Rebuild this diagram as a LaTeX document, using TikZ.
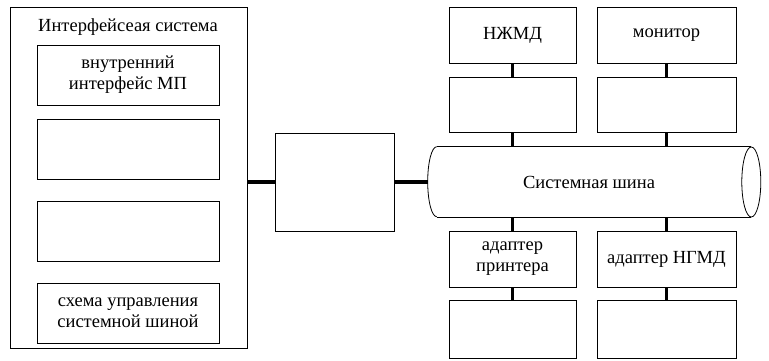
\documentclass[tikz,border=0pt]{standalone}
\usepackage{fontspec}
\setmainfont{Liberation Serif}
\newfontfamily\timesfont{Liberation Serif}
\usepackage{tikz}
\usetikzlibrary{positioning}

\begin{document}
\begin{tikzpicture}[x=1pt,y=-1pt,semithick]
\tikzstyle{blk}=[rectangle,draw=black,line width=0.8pt,inner sep=2pt,align=center]
\tikzstyle{bus line}=[line width=3.5pt]
\tikzset{font=\timesfont\fontsize{18.5pt}{21pt}\selectfont}

        \useasboundingbox (0,0) rectangle (769,361);

        % interface system
        \node[blk,minimum width=237pt,minimum height=341pt]          (is)  at (128.5,177.5) {};
        \node[inner sep=0pt]                                          (ist) at (128,27) {Интерфейсеая система};
        \node[blk,minimum width=182pt,minimum height=60pt]           (i1)  at (128,75)  {внутренний\\интерфейс МП};
        \node[blk,minimum width=182pt,minimum height=60pt]           (i2)  at (128,149) {};
        \node[blk,minimum width=182pt,minimum height=60pt]           (i3)  at (128,231) {};
        \node[blk,minimum width=182pt,minimum height=60pt]           (i4)  at (128,313) {схема управления\\системной шиной};

        \node[blk,minimum width=119pt,minimum height=98pt]           (m)   at (334.5,182) {};

        % system bus
        \node[minimum width=314pt,minimum height=70pt,inner sep=0pt] (bus) at (594,182) {};
        \node[inner sep=0pt]                                          (bt)  at (589,182) {Системная шина};
        \draw[line width=0.8pt] (bus.north west) -- (bus.north east);
        \draw[line width=0.8pt] (bus.south west) -- (bus.south east);
        \draw[line width=0.8pt] (bus.north west) arc[start angle=90,end angle=270,x radius=9pt,y radius=35pt];
        \draw[line width=0.8pt] (bus.east) ellipse [x radius=9.5pt,y radius=35pt];
        \coordinate (bw) at ([xshift=-9pt]bus.west);

        % devices
        \node[blk,minimum width=127pt,minimum height=56pt]           (h1)  at (512.5,35)  {НЖМД};
        \node[blk,minimum width=139pt,minimum height=56pt]           (h2)  at (666.5,35)  {монитор};
        \node[blk,minimum width=127pt,minimum height=55pt]           (c1)  at (512.5,104.5) {};
        \node[blk,minimum width=139pt,minimum height=55pt]           (c2)  at (666.5,104.5) {};
        \node[blk,minimum width=127pt,minimum height=56pt]           (a1)  at (512.5,259) {адаптер\\принтера};
        \node[blk,minimum width=139pt,minimum height=56pt]           (a2)  at (666.5,259) {адаптер НГМД};
        \node[blk,minimum width=127pt,minimum height=58pt]           (p1)  at (512.5,329.5) {};
        \node[blk,minimum width=139pt,minimum height=58pt]           (p2)  at (666.5,329.5) {};

        \draw[bus line]
        (m.west) -- (m.west -| is.east)
        (m.east) -- (bw)
        (h1.south) -- (c1.north)
        (h2.south) -- (c2.north)
        (c1.south) -- (c1.south |- bus.north)
        (c2.south) -- (c2.south |- bus.north)
        (a1.north) -- (a1.north |- bus.south)
        (a2.north) -- (a2.north |- bus.south)
        (a1.south) -- (p1.north)
        (a2.south) -- (p2.north)
        ; %end path

\end{tikzpicture}
\end{document}
